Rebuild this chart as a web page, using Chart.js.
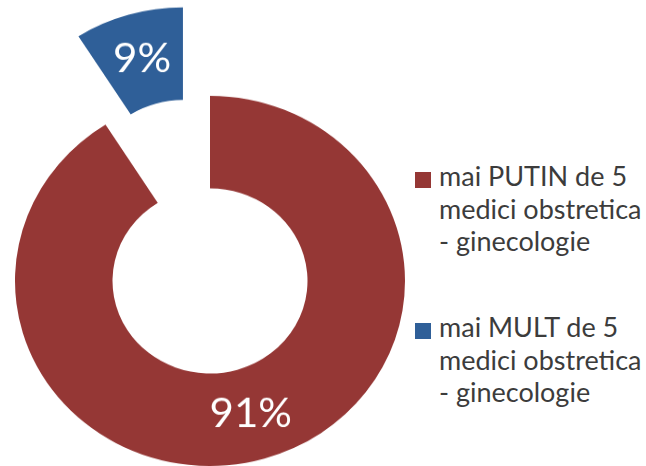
<!DOCTYPE html>
<html>
<head>
<meta charset="utf-8">
<script src="https://cdn.jsdelivr.net/npm/chart.js@4.4.1/dist/chart.umd.min.js"></script>
<style>
    html, body { margin: 0; padding: 0; background: #fff; width: 646px; height: 466px; overflow: hidden; }
    #wrap { position: absolute; left: 0; top: 0; width: 420px; height: 592px; transform: scaleY(0.949); transform-origin: 0 0; }
    #legend { position: absolute; left: 0; top: 0; font-family: Lato, sans-serif; font-size: 27px; line-height: 32.5px; color: #3c3c3c; }
    .item { position: absolute; left: 439px; white-space: nowrap; }
    .box { position: absolute; left: -24px; top: 12px; width: 16px; height: 16px; }
</style>
</head>
<body>
<div id="wrap"><canvas id="donut" width="420" height="592"></canvas></div>
<div id="legend"></div>

<script>
const categories = [
    ['mai PUTIN de 5', 'medici obstretica', '- ginecologie'],
    ['mai MULT de 5', 'medici obstretica', '- ginecologie']
];
const shares = [91, 9];
const colors = ['#953735', '#2F5F98'];

// how far each slice is pulled out (px)
const explodePx = [0, 97];
const legendTops = [160, 311];

function buildLegend() {
    const legend = document.getElementById('legend');
    categories.forEach((lines, i) => {
        const item = document.createElement('div');
        item.className = 'item';
        item.style.top = legendTops[i] + 'px';
        const box = document.createElement('span');
        box.className = 'box';
        box.style.background = colors[i];
        item.appendChild(box);
        lines.forEach(line => {
            const div = document.createElement('div');
            div.innerText = line;
            item.appendChild(div);
        });
        legend.appendChild(item);
    });
}

const explodePlugin = {
    id: 'explode',
    beforeDatasetDraw(chart, args) {
        const ctx = chart.ctx;
        args.meta.data.forEach((arc, i) => {
            const mid = (arc.startAngle + arc.endAngle) / 2;
            ctx.save();
            ctx.translate(Math.cos(mid) * explodePx[i], Math.sin(mid) * explodePx[i]);
            arc.draw(ctx);
            ctx.restore();
        });
        return false;
    },
    afterDatasetsDraw(chart) {
        const ctx = chart.ctx;
        const meta = chart.getDatasetMeta(0);
        ctx.save();
        ctx.fillStyle = '#ffffff';
        ctx.font = '42px Lato, sans-serif';
        ctx.textAlign = 'center';
        ctx.textBaseline = 'middle';
        meta.data.forEach((arc, i) => {
            const mid = (arc.startAngle + arc.endAngle) / 2;
            const r = (arc.innerRadius + arc.outerRadius) / 2 + explodePx[i];
            ctx.fillText(shares[i] + '%', arc.x + Math.cos(mid) * r, arc.y + Math.sin(mid) * r);
        });
        ctx.restore();
    }
};

buildLegend();

new Chart(document.getElementById('donut').getContext('2d'), {
    type: 'doughnut',
    data: {
        labels: categories.map(c => c.join(' ')),
        datasets: [{
            data: shares,
            backgroundColor: colors,
            borderWidth: 0
        }]
    },
    options: {
        responsive: false,
        animation: false,
        events: [],
        radius: 195,
        cutout: '50%',
        layout: { padding: 0 },
        plugins: {
            legend: { display: false },
            tooltip: { enabled: false }
        }
    },
    plugins: [explodePlugin]
});
</script>
</body>
</html>
